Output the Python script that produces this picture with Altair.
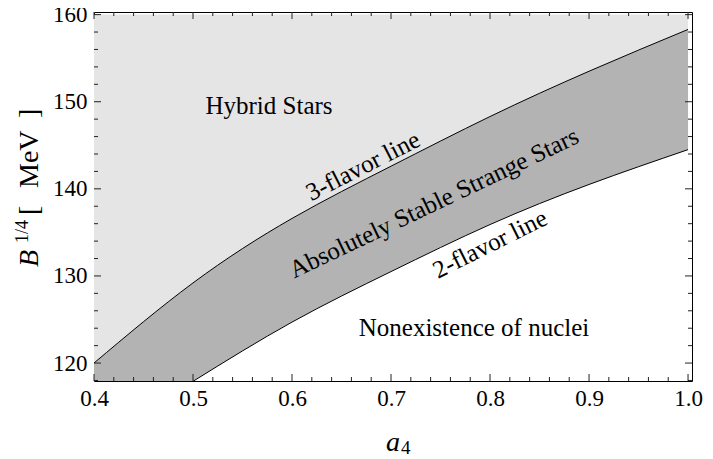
import altair as alt
import pandas as pd

# ---- data ----
a4_three = [0.4, 0.5, 0.6, 0.7, 0.8, 0.9, 1.0]
b_three = [120.0, 129.2, 136.6, 142.6, 148.3, 153.5, 158.3]
a4_two = [0.5, 0.6, 0.7, 0.8, 0.9, 1.0]
b_two = [117.9, 124.7, 130.5, 135.9, 140.5, 144.5]

x_major = [0.4, 0.5, 0.6, 0.7, 0.8, 0.9, 1.0]
x_minor = [0.42, 0.44, 0.46, 0.48, 0.52, 0.54, 0.56, 0.58, 0.62, 0.64, 0.66, 0.68,
           0.72, 0.74, 0.76, 0.78, 0.82, 0.84, 0.86, 0.88, 0.92, 0.94, 0.96, 0.98]
y_major = [120, 130, 140, 150, 160]
y_minor = [118, 122, 124, 126, 128, 132, 134, 136, 138, 142, 144, 146, 148,
           152, 154, 156, 158]

B_TOP = 160.0
B_BOT = 117.94

W, H = 598, 369
FONT = "Liberation Serif"
LIGHT = "#e5e5e5"
MID = "#b3b3b3"
TICK = "#222222"
CURVE = "natural"

xs = alt.Scale(domain=[0.4, 1.004], nice=False, zero=False)
ys = alt.Scale(domain=[117.94, 160.3], nice=False, zero=False)

df3 = pd.DataFrame({"a4": a4_three, "b": b_three})
df3["top"] = B_TOP
df3["bot"] = B_BOT
df2 = pd.DataFrame({"a4": a4_two, "b": b_two})
df2["bot"] = B_BOT

xaxis = alt.Axis(values=x_major, format=".1f", ticks=False, domain=False, grid=False,
                 labelFont=FONT, labelFontSize=23, labelColor="black", labelPadding=6,
                 labelFlush=False, labelOverlap=False, title=None)
yaxis = alt.Axis(values=y_major, format="d", ticks=False, domain=False, grid=False,
                 labelFont=FONT, labelFontSize=23, labelColor="black", labelPadding=7,
                 labelFlush=False, labelOverlap=False, title=None)

X = lambda f: alt.X(f, scale=xs, axis=xaxis)
Y = lambda f: alt.Y(f, scale=ys, axis=yaxis)

top_area = alt.Chart(df3).mark_area(color=LIGHT, interpolate=CURVE, clip=True).encode(
    x=X("a4:Q"), y=Y("b:Q"), y2="top:Q")
mid_area = alt.Chart(df3).mark_area(color=MID, interpolate=CURVE, clip=True).encode(
    x=X("a4:Q"), y=Y("b:Q"), y2="bot:Q")
low_area = alt.Chart(df2).mark_area(color="white", interpolate=CURVE, clip=True).encode(
    x=X("a4:Q"), y=Y("b:Q"), y2="bot:Q")
line3 = alt.Chart(df3).mark_line(color="black", strokeWidth=1, interpolate=CURVE, clip=True).encode(
    x=X("a4:Q"), y=Y("b:Q"))
line2 = alt.Chart(df2).mark_line(color="black", strokeWidth=1, interpolate=CURVE, clip=True).encode(
    x=X("a4:Q"), y=Y("b:Q"))


def xticks(vals, y0, y1):
    return alt.Chart(pd.DataFrame({"a4": vals})).mark_rule(color=TICK, strokeWidth=1).encode(
        x=X("a4:Q"), y=alt.value(y0), y2=alt.value(y1))


def yticks(vals, x0, x1):
    return alt.Chart(pd.DataFrame({"b": vals})).mark_rule(color=TICK, strokeWidth=1).encode(
        y=Y("b:Q"), x=alt.value(x0), x2=alt.value(x1))


ticks = [
    xticks(x_major, H, H - 7), xticks(x_minor, H, H - 4),
    xticks(x_major, 0, 7), xticks(x_minor, 0, 4),
    yticks(y_major, 0, 7), yticks(y_minor, 0, 4),
    yticks(y_major, W, W - 7), yticks(y_minor, W, W - 4),
]


def label(text, x, y, size=25, angle=0, align="center", baseline="middle", style="normal"):
    return alt.Chart(pd.DataFrame({"t": [text]})).mark_text(
        font=FONT, fontSize=size, angle=angle, align=align, baseline=baseline,
        fontStyle=style, color="black"
    ).encode(x=alt.value(x), y=alt.value(y), text="t:N")


labels = [
    label("Hybrid Stars", 175, 94),
    label("3-flavor line", 269, 154, angle=333),
    label("Absolutely Stable Strange Stars", 340, 191, angle=334.5),
    label("2-flavor line", 396, 232, angle=333.5),
    label("Nonexistence of nuclei", 380, 316),
    # x title
    label("a", 292, 439, size=28, align="left", baseline="alphabetic", style="italic"),
    label("4", 307, 442, size=19, align="left", baseline="alphabetic"),
    # y title (rotated)
    label("B", -56, 255, size=28, angle=270, align="left", baseline="alphabetic", style="italic"),
    label("1/4", -66, 231, size=18, angle=270, align="left", baseline="alphabetic"),
    label("[", -56, 203, size=28, angle=270, align="left", baseline="alphabetic"),
    label("MeV", -56, 176, size=28, angle=270, align="left", baseline="alphabetic"),
    label("]", -56, 106, size=28, angle=270, align="left", baseline="alphabetic"),
]

chart = alt.layer(top_area, mid_area, low_area, line3, line2, *ticks, *labels).properties(
    width=W, height=H,
    padding={"left": 86, "top": 4, "right": 13, "bottom": 78},
    autosize=alt.AutoSizeParams(type="none"),
).configure_view(stroke="black", strokeWidth=1)

chart.save("out.html", embed_options={"renderer": "svg", "actions": False})
